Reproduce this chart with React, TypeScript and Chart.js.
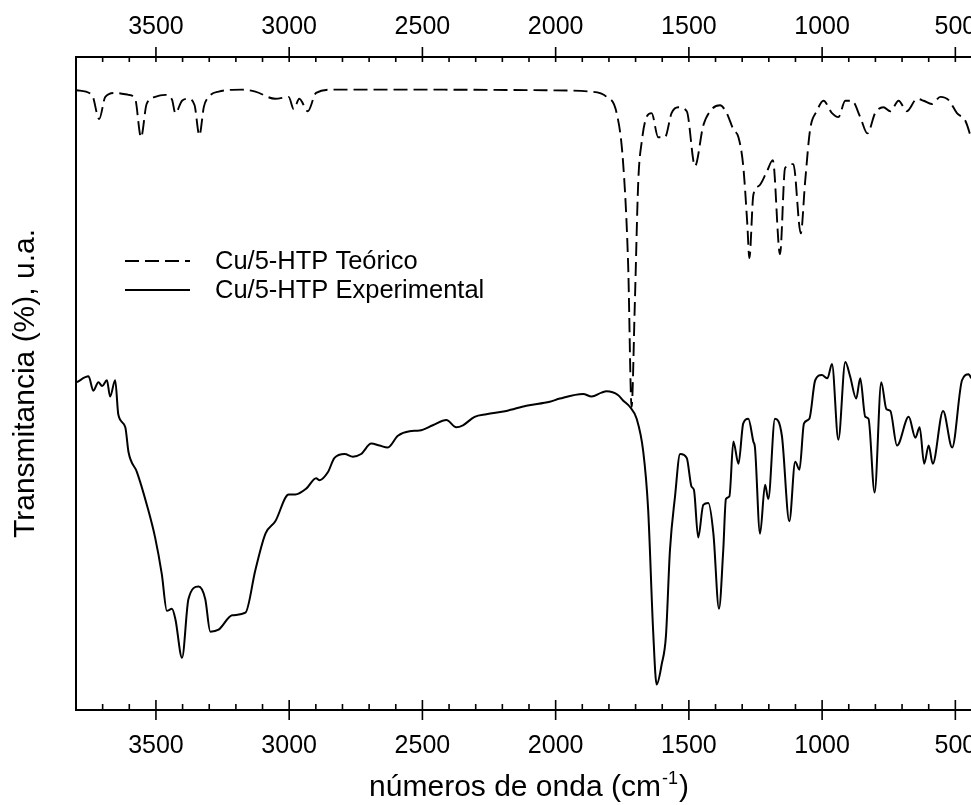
import React, { useEffect, useRef } from 'react';
import { Chart, registerables } from 'chart.js';

Chart.register(...registerables);

const FONT = '"Liberation Sans", Arial, Helvetica, sans-serif';

// Theoretical spectrum (dashed)
const theoWN = [3797, 3740, 3713, 3690, 3653, 3603, 3578, 3556, 3535, 3503, 3465, 3440, 3427, 3402, 3378, 3355, 3337, 3320, 3302, 3265, 3177, 3127, 3052, 3002, 2983, 2962, 2930, 2899, 2838, 2500, 2022, 1872, 1809, 1771, 1747, 1728, 1715, 1703, 1690, 1677, 1659, 1640, 1615, 1590, 1565, 1540, 1508, 1477, 1446, 1414, 1383, 1358, 1333, 1314, 1296, 1281, 1273, 1258, 1236, 1208, 1185, 1158, 1139, 1108, 1080, 1064, 1045, 1020, 995, 963, 939, 913, 888, 857, 830, 801, 770, 744, 713, 682, 644, 619, 588, 556, 525, 494, 462, 440];
const theoT = [94.9, 94.2, 90.5, 93.9, 94.5, 94.2, 93.6, 87.7, 92.8, 93.9, 94.2, 93.5, 91.4, 93.3, 93.6, 92.6, 88.0, 92.4, 93.9, 94.7, 95.0, 94.7, 93.6, 93.9, 92.0, 93.6, 91.7, 94.5, 95.0, 95.0, 94.9, 94.7, 93.9, 91.4, 83.9, 68.3, 46.4, 62.0, 80.9, 87.0, 90.8, 91.4, 87.7, 87.7, 91.4, 92.3, 91.7, 83.3, 89.5, 92.0, 92.6, 91.4, 88.9, 87.7, 83.3, 74.6, 69.2, 78.9, 80.3, 82.4, 84.2, 69.8, 83.0, 83.6, 73.0, 80.8, 88.9, 91.7, 93.3, 91.4, 90.8, 93.3, 93.3, 90.8, 88.3, 91.4, 92.3, 91.7, 93.3, 91.7, 93.6, 93.3, 92.8, 93.9, 93.4, 91.4, 90.2, 87.5];

// Experimental spectrum (solid)
const expWN = [3797, 3753, 3735, 3716, 3702, 3684, 3672, 3653, 3641, 3615, 3603, 3571, 3534, 3503, 3478, 3459, 3440, 3427, 3402, 3378, 3340, 3315, 3296, 3265, 3214, 3164, 3127, 3089, 3052, 3002, 2977, 2936, 2899, 2886, 2855, 2830, 2792, 2761, 2730, 2692, 2661, 2630, 2592, 2548, 2511, 2461, 2410, 2373, 2348, 2304, 2260, 2185, 2110, 2022, 1984, 1897, 1865, 1828, 1809, 1765, 1747, 1721, 1696, 1671, 1653, 1634, 1621, 1602, 1586, 1571, 1552, 1533, 1508, 1490, 1481, 1465, 1446, 1427, 1408, 1387, 1371, 1361, 1348, 1333, 1314, 1296, 1277, 1258, 1252, 1233, 1214, 1202, 1177, 1151, 1123, 1101, 1085, 1068, 1048, 1026, 1001, 980, 963, 939, 913, 895, 872, 857, 838, 826, 803, 778, 759, 744, 719, 675, 650, 634, 617, 600, 585, 546, 512, 475, 450, 440];
const expT = [50.2, 51.1, 48.9, 50.2, 49.6, 50.5, 48.0, 50.5, 45.2, 43.3, 39.5, 36.4, 31.4, 26.4, 20.8, 15.2, 15.5, 13.9, 8.0, 17.0, 18.9, 17.0, 12.0, 12.3, 14.5, 14.9, 21.4, 27.0, 28.9, 33.0, 33.0, 33.9, 35.5, 35.2, 36.4, 38.6, 39.2, 38.8, 39.2, 40.8, 40.5, 40.2, 42.0, 42.7, 42.8, 43.6, 44.4, 43.3, 43.6, 44.9, 45.3, 45.8, 46.6, 47.2, 47.7, 48.4, 48.0, 48.6, 48.8, 48.2, 47.4, 46.4, 44.6, 39.5, 30.8, 12.0, 3.9, 7.0, 11.4, 24.5, 32.7, 39.2, 38.6, 34.2, 33.7, 26.4, 31.4, 31.7, 27.0, 15.5, 24.5, 32.3, 32.7, 41.1, 37.7, 43.9, 44.6, 41.1, 40.2, 27.0, 34.5, 32.3, 44.6, 42.0, 28.9, 38.0, 36.8, 43.9, 44.6, 50.5, 51.3, 50.8, 53.0, 41.4, 53.3, 51.1, 47.7, 50.8, 44.9, 44.6, 33.3, 50.2, 46.1, 45.8, 40.5, 44.9, 41.7, 43.3, 37.7, 40.5, 37.7, 45.8, 40.2, 50.5, 51.4, 50.8];

const xTickValues = [3500, 3000, 2500, 2000, 1500, 1000, 500];
const xMinorStep = 100;
const xRange = [400, 3800];
const yRange = [0, 100];
const seriesLabels = ['Cu/5-HTP Teórico', 'Cu/5-HTP Experimental'];
const xTitleParts = ['números de onda (cm', '-1', ')'];
const yTitle = 'Transmitancia (%), u.a.';

const DASH = [14, 6];

export default function App() {
  const ref = useRef<HTMLCanvasElement>(null);

  useEffect(() => {
    const canvas = ref.current;
    if (!canvas) return;

    const decor = {
      id: 'decor',
      afterDraw(chart: any) {
        const ctx = chart.ctx as CanvasRenderingContext2D;
        const { top, bottom, left } = chart.chartArea;
        const xs = chart.scales.x;
        ctx.save();
        // tick marks
        ctx.strokeStyle = '#000';
        ctx.lineWidth = 1.6;
        ctx.setLineDash([]);
        ctx.beginPath();
        for (let v = xRange[0]; v <= xRange[1]; v += xMinorStep) {
          const px = xs.getPixelForValue(v);
          if (px < left - 1) continue;
          const major = v % 500 === 0;
          if (major) {
            ctx.moveTo(px, top - 10);
            ctx.lineTo(px, top + 5);
            ctx.moveTo(px, bottom - 10);
            ctx.lineTo(px, bottom + 10);
          } else {
            ctx.moveTo(px, top);
            ctx.lineTo(px, top + 5);
            ctx.moveTo(px, bottom - 6);
            ctx.lineTo(px, bottom);
          }
        }
        ctx.stroke();

        // legend
        const lx0 = 125, lx1 = 190, ly0 = 261, ly1 = 290;
        ctx.lineWidth = 1.9;
        ctx.setLineDash(DASH);
        ctx.beginPath();
        ctx.moveTo(lx0, ly0);
        ctx.lineTo(lx1, ly0);
        ctx.stroke();
        ctx.setLineDash([]);
        ctx.beginPath();
        ctx.moveTo(lx0, ly1);
        ctx.lineTo(lx1, ly1);
        ctx.stroke();
        ctx.fillStyle = '#000';
        ctx.font = `25.5px ${FONT}`;
        ctx.textBaseline = 'middle';
        ctx.textAlign = 'left';
        ctx.fillText(seriesLabels[0], 215, ly0 + 1);
        ctx.fillText(seriesLabels[1], 215, ly1 + 1);

        // x title with superscript
        const mainFont = `30px ${FONT}`;
        const supFont = `18px ${FONT}`;
        ctx.textBaseline = 'alphabetic';
        ctx.font = mainFont;
        const w1 = ctx.measureText(xTitleParts[0]).width;
        const w3 = ctx.measureText(xTitleParts[2]).width;
        ctx.font = supFont;
        const w2 = ctx.measureText(xTitleParts[1]).width;
        const total = w1 + w2 + w3 + 2;
        const cx = (chart.chartArea.left + chart.chartArea.right) / 2;
        let x = cx - total / 2;
        const base = 796;
        ctx.font = mainFont;
        ctx.fillText(xTitleParts[0], x, base);
        x += w1 + 1;
        ctx.font = supFont;
        ctx.fillText(xTitleParts[1], x, base - 12);
        x += w2 + 1;
        ctx.font = mainFont;
        ctx.fillText(xTitleParts[2], x, base);
        ctx.restore();
      },
    };

    const xAxisCommon = (position: 'top' | 'bottom', height: number, padding: number) => ({
      type: 'linear' as const,
      position,
      reverse: true,
      min: xRange[0],
      max: xRange[1],
      afterBuildTicks: (s: any) => {
        s.ticks = xTickValues.map((v) => ({ value: v }));
      },
      afterFit: (s: any) => {
        s.height = height;
      },
      ticks: {
        font: { size: 25, family: FONT },
        color: '#000',
        padding,
        maxRotation: 0,
        autoSkip: false,
        includeBounds: false,
        callback: (v: any) => String(v),
      },
      grid: { display: false, drawTicks: false },
      border: { display: true, color: '#000', width: 2 },
    });

    const chart = new Chart(canvas, {
      type: 'line',
      data: {
        datasets: [
          {
            label: seriesLabels[0],
            data: theoWN.map((x, i) => ({ x, y: theoT[i] })),
            borderColor: '#000',
            borderWidth: 1.9,
            borderDash: DASH,
            pointRadius: 0,
            fill: false,
            cubicInterpolationMode: 'monotone',
            xAxisID: 'x',
            yAxisID: 'y',
          },
          {
            label: seriesLabels[1],
            data: expWN.map((x, i) => ({ x, y: expT[i] })),
            borderColor: '#000',
            borderWidth: 2,
            pointRadius: 0,
            fill: false,
            cubicInterpolationMode: 'monotone',
            xAxisID: 'x',
            yAxisID: 'y',
          },
        ],
      },
      options: {
        responsive: false,
        animation: false,
        devicePixelRatio: 1,
        events: [],
        layout: { padding: { left: 0, right: 28, top: 0, bottom: 0 } },
        plugins: {
          legend: { display: false },
          tooltip: { enabled: false },
          title: { display: false },
        },
        scales: {
          x: xAxisCommon('bottom', 95, 21) as any,
          x2: xAxisCommon('top', 57, 15) as any,
          y: {
            type: 'linear',
            min: yRange[0],
            max: yRange[1],
            ticks: { display: false },
            grid: { display: false, drawTicks: false },
            border: { display: true, color: '#000', width: 2 },
            title: {
              display: true,
              text: yTitle,
              color: '#000',
              font: { size: 30, family: FONT, lineHeight: 1 },
              padding: { top: 11, bottom: 0 },
            },
            afterFit: (s: any) => {
              s.width = 76;
            },
          },
        },
      } as any,
      plugins: [decor],
    });

    return () => {
      chart.destroy();
    };
  }, []);

  return (
    <div
      style={{
        position: 'fixed',
        left: 0,
        top: 0,
        width: 971,
        height: 805,
        overflow: 'hidden',
        background: '#fff',
      }}
    >
      <canvas ref={ref} width={1010} height={805} style={{ display: 'block' }} />
    </div>
  );
}
